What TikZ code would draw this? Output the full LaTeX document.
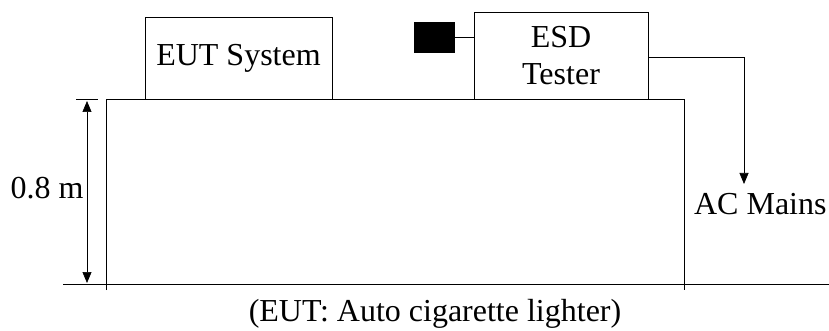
\documentclass[tikz,border=0pt]{standalone}
\usepackage{fontspec}
\setmainfont{Liberation Serif}
\usetikzlibrary{arrows.meta}
\begin{document}
\begin{tikzpicture}[x=1pt,y=-1pt,
  line width=0.9pt,
  every node/.style={font=\fontsize{32}{37}\selectfont, inner sep=0pt},
  unit/.style={draw, rectangle, align=center},
  tip/.style={-{Triangle[length=11pt,width=9pt]}},
  dim/.style={{Triangle[length=11pt,width=9pt]}-{Triangle[length=11pt,width=9pt]}, line width=0.7pt}]
  \useasboundingbox (0,0) rectangle (829,331);

  % equipment on the table
  \node[unit, minimum width=187pt, minimum height=82pt] (eut) at (238.5,58) {EUT System};
  \node[unit, minimum width=174pt, minimum height=87pt] (esd) at (561,55.5) {ESD\\Tester};
  \node[draw, fill=black, minimum width=40pt, minimum height=30pt] (probe) at (434,37) {};
  \draw (probe.east) -- (probe.east -| esd.west);

  % table and floor
  \coordinate (tl) at (106,99);
  \coordinate (tr) at (684,99);
  \draw (106,290) -- (tl) -- (tr) -- (684,290);
  \draw (63,284) -- (829,284);

  % height of the table
  \draw (76,99) -- (98,99);
  \draw[dim] (87,101) -- (87,283);
  \node (height) at (47,188) {0.8 m};

  % mains cable
  \coordinate (bend) at (744,57);
  \node[anchor=base east] (mains) at (827,214) {AC Mains};
  \draw[tip, line width=0.7pt] (esd.east |- bend) -- (bend) -- (744,184);

  \node (caption) at (435,314) {(EUT: Auto cigarette lighter)};
\end{tikzpicture}
\end{document}
